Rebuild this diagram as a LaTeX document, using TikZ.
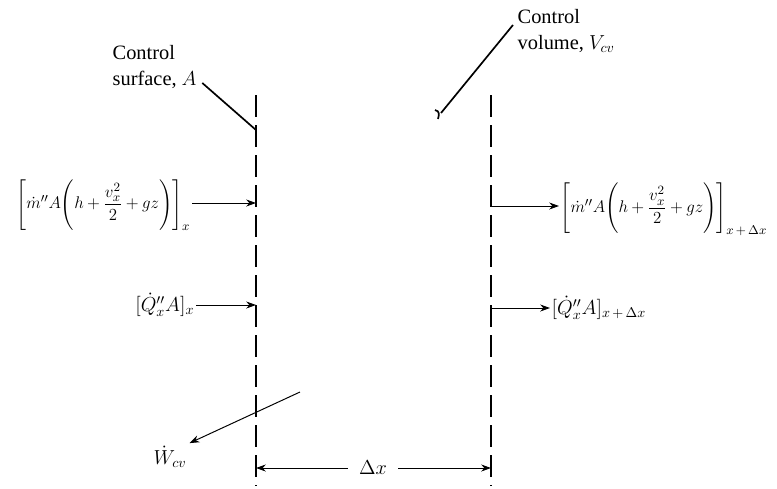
\documentclass[tikz,border=0pt]{standalone}
\usepackage{amsmath}
\usepackage{fontspec}
\setmainfont{Liberation Serif}
\usetikzlibrary{arrows.meta,positioning,calc}
\newcommand{\massterm}{\medmuskip=3.5mu\relax
  \Biggl[\dot m''A\Biggl(h+\dfrac{v_x^2}{2}+gz\Biggr)\Biggr]}

\begin{document}
\begin{tikzpicture}[x=0.025cm,y=-0.025cm,
    surface/.style={line width=0.9pt,dash pattern=on 0.55cm off 0.2cm},
    flow/.style={line width=0.7pt,-{Stealth[length=7pt,width=5pt]}},
    leader/.style={line width=1.2pt},
    lbl/.style={inner sep=1pt,font=\rmfamily\fontsize{14.5}{18}\selectfont},
    bal/.style={inner sep=1pt,font=\rmfamily\fontsize{12.5}{15}\selectfont}]
  \useasboundingbox (0,0) rectangle (777,488);

  % the two control surfaces
  \coordinate (leftTop) at (256,95);
  \coordinate (leftBot) at (256,486);
  \coordinate (rightTop) at (491,95);
  \coordinate (rightBot) at (491,486);
  \draw[surface] (leftTop) -- (leftBot);
  \draw[surface] (rightTop) -- (rightBot);

  % labels with leaders
  \node[lbl,align=left,anchor=north west] (csLabel) at (111,44) {Control\\surface, $A$};
  \coordinate (csTip) at (256,130);
  \draw[leader] ([shift={(4,-7)}]csLabel.south east) -- (csTip);

  \node[lbl,align=left,anchor=north west] (cvLabel) at (516,8) {Control\\volume, $V_{cv}$};
  \coordinate (cvTip) at (441,113);
  \draw[leader] ([shift={(-3,-6)}]cvLabel.west) -- (cvTip);
  \draw[leader] (cvTip) ++(-6,-3) .. controls +(5,1) and +(1,-4) .. ++(3,9);

  % inflow at x
  \node[bal,anchor=east] (massIn) at (192,205) {$\massterm_x$};
  \coordinate (massInEnd) at (256,203);
  \draw[flow] (massIn.east |- massInEnd) -- (massInEnd);

  \node[lbl,anchor=east] (heatIn) at (196,305) {$[\dot Q_x''A]_x$};
  \coordinate (heatInEnd) at (256,305);
  \draw[flow] (heatIn.east |- heatInEnd) -- (heatInEnd);

  % outflow at x + dx
  \coordinate (massOutStart) at (491,206);
  \node[bal,anchor=west] (massOut) at (559,209) {$\massterm_{x\,+\,\Delta x}$};
  \draw[flow] (massOutStart) -- (massOut.west |- massOutStart);

  \coordinate (heatOutStart) at (491,308);
  \node[lbl,anchor=west] (heatOut) at (550,308) {$[\dot Q_x''A]_{x\,+\,\Delta x}$};
  \draw[flow] (heatOutStart) -- (heatOut.west |- heatOutStart);

  % work out
  \coordinate (workStart) at (300,392);
  \node[lbl,inner sep=2pt] (work) at (170,457) {$\dot W_{cv}$};
  \draw[flow] (workStart) -- (work.north east);

  % width of the volume
  \node[lbl,inner sep=8pt] (dx) at (373,468) {$\Delta x$};
  \coordinate (dxLeft) at (256,468);
  \coordinate (dxRight) at (491,468);
  \draw[flow] (dx.west) -- (dxLeft);
  \draw[flow] (dx.east) -- (dxRight);
\end{tikzpicture}
\end{document}
